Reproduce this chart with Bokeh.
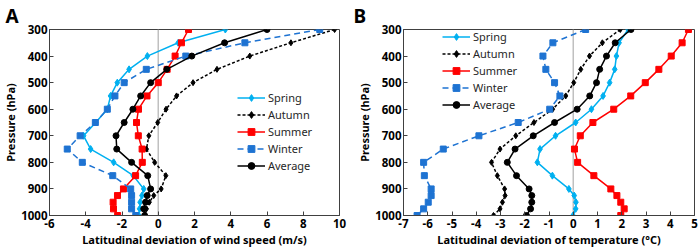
from bokeh.plotting import figure
from bokeh.layouts import row
from bokeh.models import Range1d, Span, Legend, LegendItem, FixedTicker
from bokeh.embed import file_html
from bokeh.resources import INLINE

# ---------------- data ----------------
levels = [300, 350, 400, 450, 500, 550, 600, 650, 700, 750, 800, 850, 900, 925, 950, 975, 1000]
series_names = ["Spring", "Autumn", "Summer", "Winter", "Average"]

# Panel A: latitudinal deviation of wind speed (m/s)
spring_ws = [3.70, 1.10, -0.60, -1.61, -2.26, -2.63, -2.81, -3.45, -4.12, -3.73, -2.46, -1.38, -0.80, -0.90, -1.00, -1.03, -1.07]
autumn_ws = [9.73, 7.32, 5.05, 3.24, 1.92, 1.01, 0.43, -0.03, -0.52, -0.65, -0.20, 0.42, 0.16, -0.25, -0.49, -0.65, -0.72]
summer_ws = [1.67, 1.28, 0.93, 0.49, 0.00, -0.62, -1.09, -1.20, -1.10, -0.89, -0.88, -1.25, -1.92, -2.25, -2.49, -2.47, -2.24]
winter_ws = [8.91, 4.78, 1.52, -0.66, -1.88, -2.39, -2.81, -3.47, -4.31, -5.02, -4.19, -2.51, -1.52, -1.47, -1.47, -1.47, -1.24]
average_ws = [6.00, 3.66, 1.85, 0.47, -0.42, -0.97, -1.40, -1.88, -2.33, -2.29, -1.47, -0.58, -0.42, -0.61, -0.70, -0.80, -0.75]

# Panel B: latitudinal deviation of temperature (°C)
spring_t = [2.26, 1.89, 1.78, 1.71, 1.50, 1.23, 0.75, 0.10, -0.73, -1.37, -1.48, -0.86, -0.18, 0.04, 0.11, 0.10, -0.01]
autumn_t = [1.94, 1.20, 0.67, 0.31, 0.02, -0.31, -0.85, -1.62, -2.37, -3.02, -3.37, -3.13, -2.83, -2.81, -2.92, -3.02, -3.29]
summer_t = [4.75, 4.49, 4.04, 3.53, 2.97, 2.37, 1.67, 0.81, 0.29, 0.05, 0.18, 0.85, 1.55, 1.80, 1.96, 2.10, 1.96]
winter_t = [0.51, -0.84, -1.25, -1.13, -0.77, -0.55, -0.97, -2.27, -3.89, -5.36, -6.17, -6.14, -5.86, -5.86, -5.98, -6.17, -6.44]
average_t = [2.38, 1.73, 1.37, 1.09, 0.96, 0.68, 0.16, -0.77, -1.65, -2.40, -2.72, -2.34, -1.82, -1.71, -1.71, -1.76, -1.93]

y_ticks = [300, 400, 500, 600, 700, 800, 900, 1000]
x_ticks_a = [-6, -4, -2, 0, 2, 4, 6, 8, 10]
x_ticks_b = [-7, -6, -5, -4, -3, -2, -1, 0, 1, 2, 3, 4, 5]

x_title_a = "Latitudinal deviation of wind speed (m/s)"
x_title_b = "Latitudinal deviation of temperature (°C)"
y_title = "Pressure (hPa)"

# ---------------- styles ----------------
FONT = "Noto Sans"
AX = "#404040"
styles = {
    "Spring": dict(color="#00B0F0", dash="solid", marker="diamond", size=7),
    "Autumn": dict(color="#000000", dash="3 2", marker="diamond", size=6),
    "Summer": dict(color="#FF0000", dash="solid", marker="square", size=6),
    "Winter": dict(color="#1E73D2", dash="6 4", marker="square", size=6),
    "Average": dict(color="#000000", dash="solid", marker="circle", size=6),
}

H = 249
BT, BB = 26, 32


def make_panel(letter, xdata, x_range, x_ticks, x_title, width, bl, br, legend_xy):
    p = figure(width=width, height=H, output_backend="svg", toolbar_location=None,
               x_range=Range1d(*x_range), y_range=Range1d(1000, 300),
               min_border_left=bl, min_border_right=br, min_border_top=BT, min_border_bottom=BB)
    p.xgrid.visible = False
    p.ygrid.visible = False
    p.outline_line_color = AX
    p.outline_line_width = 1
    p.background_fill_color = "white"
    p.border_fill_color = "white"

    p.title.text = letter
    p.title.align = "left"
    p.title.offset = -bl + 1
    p.title.standoff = 1
    p.title.text_font = FONT
    p.title.text_font_style = "bold"
    p.title.text_font_size = "19px"
    p.title.text_color = "#000000"

    zero = Span(location=0, dimension="height", line_color="#C0C0C0", line_width=1.5, level="underlay")
    p.add_layout(zero)

    items = []
    for name, xs in zip(series_names, xdata):
        st = styles[name]
        r1 = p.line(xs, levels, line_color=st["color"], line_width=1.5, line_dash=st["dash"])
        r2 = p.scatter(xs, levels, marker=st["marker"], size=st["size"], fill_color=st["color"],
                       line_color=st["color"])
        items.append(LegendItem(label=name, renderers=[r1, r2]))

    leg = Legend(items=items, location=legend_xy, padding=0, margin=0, spacing=0,
                 label_height=17, glyph_height=17, glyph_width=28, label_standoff=3,
                 background_fill_alpha=0, border_line_alpha=0,
                 label_text_font=FONT, label_text_font_size="11px", label_text_color="#262626")
    p.add_layout(leg, "center")

    for ax in (p.xaxis[0], p.yaxis[0]):
        ax.axis_line_color = AX
        ax.major_tick_line_color = AX
        ax.major_tick_in = 4
        ax.major_tick_out = 0
        ax.minor_tick_line_color = None
        ax.major_label_text_font = FONT
        ax.major_label_text_font_style = "bold"
        ax.major_label_text_font_size = "11.5px"
        ax.major_label_text_color = "#000000"
        ax.axis_label_text_font = FONT
        ax.axis_label_text_font_style = "bold"
        ax.axis_label_text_font_size = "11px"
        ax.axis_label_text_color = "#000000"
    p.xaxis.ticker = FixedTicker(ticks=x_ticks)
    p.xaxis.major_label_overrides = {t: str(t) for t in x_ticks}
    p.xaxis.major_label_standoff = 3
    p.xaxis.axis_label = x_title
    p.xaxis.axis_label_standoff = 1

    p.yaxis.ticker = FixedTicker(ticks=y_ticks)
    p.yaxis.major_label_overrides = {t: str(t) for t in y_ticks}
    p.yaxis.major_label_standoff = 2
    p.yaxis.axis_label = y_title
    p.yaxis.axis_label_standoff = 0
    return p


pa = make_panel("A", [spring_ws, autumn_ws, summer_ws, winter_ws, average_ws], (-6, 10), x_ticks_a,
                x_title_a, 352, 45, 13, (188, 41))
pb = make_panel("B", [spring_t, autumn_t, summer_t, winter_t, average_t], (-7, 5), x_ticks_b,
                x_title_b, 346, 51, 4, (39, 102))

layout = row(pa, pb)
open("out.html", "w").write(file_html(layout, INLINE))
